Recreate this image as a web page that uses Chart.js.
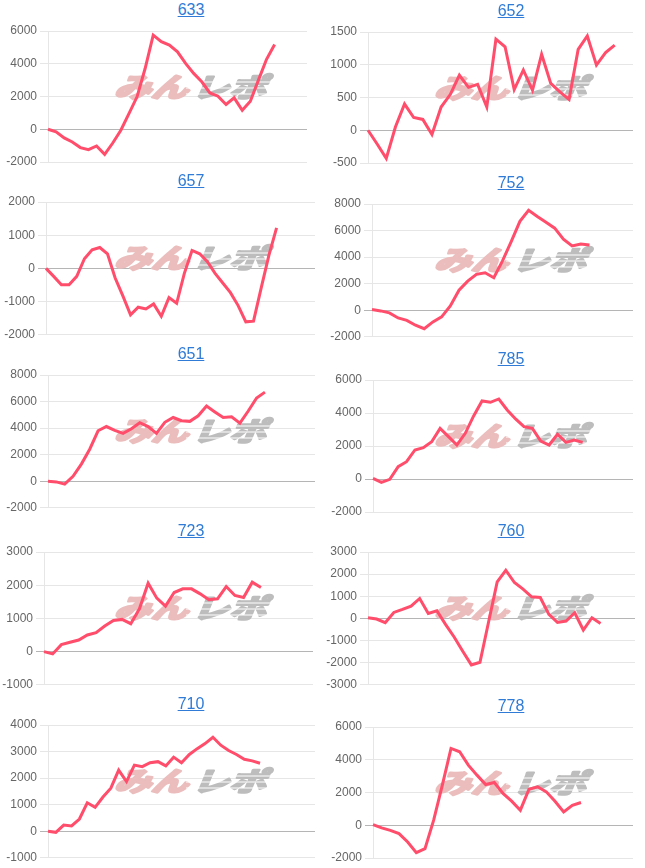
<!DOCTYPE html>
<html>
<head>
<meta charset="utf-8">
<script src="https://cdn.jsdelivr.net/npm/chart.js@4.4.1/dist/chart.umd.min.js"></script>
<style>
  html, body { margin: 0; padding: 0; background: #fff; }
  body { width: 645px; height: 868px; position: relative; overflow: hidden; }
  .cell { position: absolute; width: 322px; height: 173px; }
  .cell a {
    position: absolute; left: 30px; right: -30px; top: 0; height: 21px;
    line-height: 21px; text-align: center; font: 16px Arial, "Liberation Sans", sans-serif;
    color: #2f7bd6; text-decoration: underline;
  }
  .cell canvas { position: absolute; left: 0; top: 0; }
</style>
</head>
<body>
<script>
'use strict';

const titles = ['633', '652', '657', '752', '651', '785', '723', '760', '710', '778'];

const v633 = [0, -160, -530, -780, -1120, -1250, -1020, -1530, -840, -60, 960, 1980, 3710, 5750, 5350, 5140, 4730, 4020, 3410, 2900, 2220, 2020, 1510, 1920, 1160, 1710, 3000, 4270, 5180];
const v652 = [0, -210, -430, 50, 400, 195, 165, -65, 355, 545, 840, 655, 700, 355, 1390, 1275, 620, 920, 610, 1160, 715, 585, 470, 1235, 1440, 995, 1185, 1300];
const v657 = [0, -240, -490, -490, -240, 290, 560, 630, 440, -290, -830, -1400, -1170, -1220, -1070, -1440, -880, -1050, -150, 540, 440, 200, -150, -440, -730, -1120, -1610, -1590, -585, 390, 1220];
const v752 = [50, -50, -200, -580, -760, -1130, -1390, -880, -500, 330, 1510, 2190, 2700, 2820, 2450, 3710, 5170, 6690, 7520, 7060, 6630, 6180, 5350, 4840, 4990, 4920];
const v651 = [0, -50, -220, 370, 1290, 2410, 3800, 4120, 3830, 3600, 3950, 4410, 4120, 3600, 4440, 4800, 4560, 4510, 4930, 5660, 5220, 4800, 4850, 4370, 5290, 6270, 6710];
const v785 = [40, -200, -20, 750, 1050, 1760, 1900, 2260, 3070, 2570, 2060, 2770, 3820, 4730, 4650, 4850, 4180, 3640, 3170, 3070, 2300, 2060, 2710, 2220, 2360, 2220];
const v723 = [0, -70, 210, 280, 350, 500, 570, 770, 940, 970, 840, 1290, 2060, 1610, 1370, 1780, 1890, 1890, 1740, 1560, 1590, 1960, 1690, 1630, 2090, 1930];
const v760 = [30, -30, -195, 270, 405, 555, 900, 225, 345, -270, -840, -1485, -2100, -1980, -165, 1650, 2175, 1620, 1320, 975, 945, 180, -180, -120, 255, -525, 30, -225];
const v710 = [0, -40, 230, 200, 460, 1070, 900, 1290, 1620, 2300, 1870, 2490, 2430, 2580, 2620, 2460, 2790, 2580, 2890, 3110, 3300, 3540, 3240, 3040, 2890, 2710, 2650, 2560];
const v778 = [40, -160, -310, -510, -1020, -1670, -1430, 310, 2450, 4690, 4490, 3670, 3060, 2490, 2610, 1940, 1470, 920, 2200, 2350, 2040, 1470, 820, 1220, 1390];

const series = [v633, v652, v657, v752, v651, v785, v723, v760, v710, v778];

// number of x slots (labels) per chart, the line stops before the end
const labelCounts = [33, 30, 36, 31, 33, 32, 32, 32, 35, 31];

const yMin = [-2000, -500, -2000, -2000, -2000, -2000, -1000, -3000, -1000, -2000];
const yMax = [6000, 1500, 2000, 8000, 8000, 6000, 3000, 3000, 4000, 6000];
const yStep = [2000, 500, 1000, 2000, 2000, 2000, 1000, 1000, 1000, 2000];

// layout (page pixels)
const plotLeft = [48, 48, 46, 52, 48, 53, 44, 48, 48, 53];
const plotRight = [307, 313, 315, 313, 315, 313, 313, 315, 315, 313];
const plotTop = [31, 32, 202, 204, 375, 380, 552, 552, 725, 727];
const plotBottom = [162, 163, 338, 337, 512, 512, 686, 685, 860, 858];

Chart.defaults.font.family = 'Arial, "Liberation Sans", sans-serif';
Chart.defaults.font.size = 12;
Chart.defaults.color = '#666';

// site logo drawn faintly behind the line
const watermark = {
    id: 'watermark',
    beforeDatasetsDraw(chart) {
        const ctx = chart.ctx;
        ctx.save();
        ctx.translate(116, 86);
        ctx.transform(1, 0, -0.3, 0.72, 0, 0);
        ctx.font = 'bold 37px "Noto Sans CJK JP"';
        ctx.textBaseline = 'middle';
        ctx.lineJoin = 'round';
        ctx.lineWidth = 3.5;
        ctx.fillStyle = ctx.strokeStyle = '#ebbdbd';
        ctx.strokeText('みん', 2, 0);
        ctx.fillText('みん', 2, 0);
        ctx.fillStyle = ctx.strokeStyle = '#bdbdbd';
        ctx.strokeText('レポ', 80, 0);
        ctx.fillText('レポ', 80, 0);
        ctx.restore();
        // speed stripes through the grey half
        ctx.save();
        ctx.strokeStyle = '#fff';
        ctx.lineWidth = 1.2;
        [81, 87, 93].forEach(function(y) {
            ctx.beginPath();
            ctx.moveTo(186, y);
            ctx.lineTo(272, y);
            ctx.stroke();
        });
        ctx.restore();
    }
};

titles.forEach(function(t, i) {
    const cell = document.createElement('div');
    cell.className = 'cell';
    const top = plotTop[i] - 30;
    cell.style.left = (i % 2 === 0 ? 0 : 320) + 'px';
    cell.style.top = top + 'px';
    const link = document.createElement('a');
    link.textContent = t;
    cell.appendChild(link);
    const canvas = document.createElement('canvas');
    canvas.width = 322;
    canvas.height = 173;
    cell.appendChild(canvas);
    document.body.appendChild(cell);

    const labels = [];
    for (let k = 0; k < labelCounts[i]; k++) labels.push(String(k + 1));

    new Chart(canvas, {
        type: 'line',
        data: {
            labels: labels,
            datasets: [{
                data: series[i],
                borderColor: '#ff4d6b',
                borderWidth: 3,
                pointRadius: 0,
                tension: 0,
                fill: false,
            }],
        },
        options: {
            responsive: false,
            animation: false,
            layout: {
                padding: {
                    left: 0,
                    right: 322 - plotRight[i],
                    top: 30,
                    bottom: 173 - (plotBottom[i] - top),
                },
            },
            plugins: {
                legend: { display: false },
                tooltip: { enabled: false },
            },
            scales: {
                x: { display: false },
                y: {
                    min: yMin[i],
                    max: yMax[i],
                    ticks: {
                        stepSize: yStep[i],
                        color: '#666',
                        callback: function(v) { return String(v); },
                    },
                    grid: {
                        color: function(c) { return c.tick && c.tick.value === 0 ? '#b5b5b5' : '#e6e6e6'; },
                    },
                    border: { color: '#e6e6e6' },
                    afterFit: function(scale) { scale.width = plotLeft[i]; },
                },
            },
        },
        plugins: [watermark],
    });
});
</script>
</body>
</html>
